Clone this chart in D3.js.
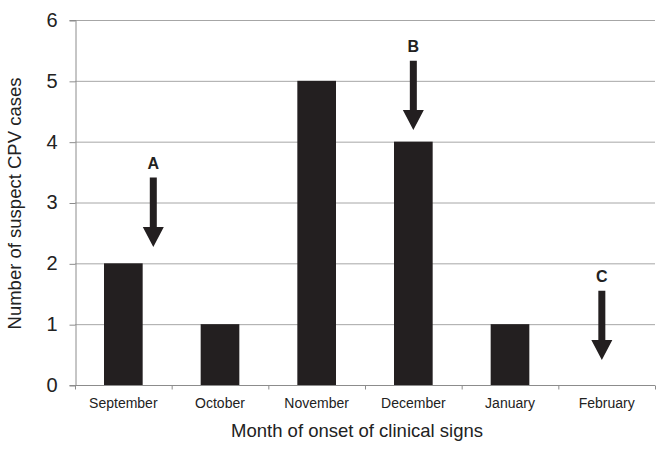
<!DOCTYPE html>
<html><head><meta charset="utf-8">
<script src="https://cdn.jsdelivr.net/npm/d3@7"></script>
<style>body{margin:0;background:#fff}svg{display:block}text{font-family:"Liberation Sans",Arial,sans-serif}</style>
</head><body><svg id="c" width="668" height="452"></svg>
<script>
const months = ["September","October","November","December","January","February"];
const cases = [2,1,5,4,1,0];
const yTicks = [0,1,2,3,4,5,6];
// annotations: label, category, offset within band (fraction of step), arrow top and tip in data units
const arrowLabels = ["A","B","C"];
const arrowMonths = ["September","December","February"];
const arrowOffsets = [0.31,0,-0.05];
const arrowTops = [3.41,5.33,1.55];
const arrowTips = [2.27,4.19,0.41];

const svg = d3.select("#c");
const L=75, R=655, T=20, B=385;
const x = d3.scaleBand().domain(months).range([L,R]).paddingInner(0).paddingOuter(0);
const y = d3.scaleLinear().domain([0,6]).range([B,T]);
const bw = x.bandwidth()*0.4;

// gridlines
svg.append("g").selectAll("line").data(yTicks.filter(d=>d>0)).join("line")
  .attr("x1",L).attr("x2",R).attr("y1",d=>y(d)+0.5).attr("y2",d=>y(d)+0.5)
  .attr("stroke","#a6a6a6").attr("stroke-width",1);

// y axis
const ya = svg.append("g").attr("transform",`translate(${L+0.5},0)`)
  .call(d3.axisLeft(y).tickValues(yTicks).tickSize(6).tickPadding(12).tickFormat(d3.format("d")));
ya.select(".domain").attr("stroke","#8c8c8c");
ya.selectAll(".tick line").attr("stroke","#8c8c8c").attr("transform","translate(0,0.5)");
ya.selectAll(".tick text").attr("font-size",20).attr("fill","#222").attr("font-family","Liberation Sans, Arial, sans-serif");

// bars
svg.append("g").selectAll("rect").data(months).join("rect")
  .attr("x",(d,i)=>x(d)+x.bandwidth()/2-bw/2).attr("width",bw)
  .attr("y",(d,i)=>y(cases[i])).attr("height",(d,i)=>B-y(cases[i]))
  .attr("fill","#231f20");

// x axis
const boundaries = months.map(m=>x(m)).concat([R]);
const xa = svg.append("g").attr("transform",`translate(0,${B+0.5})`);
xa.append("line").attr("x1",L).attr("x2",R).attr("stroke","#8c8c8c");
xa.selectAll("line.t").data(boundaries).join("line").attr("class","t")
  .attr("x1",d=>d+0.5).attr("x2",d=>d+0.5).attr("y1",0).attr("y2",4).attr("stroke","#8c8c8c");
xa.selectAll("text").data(months).join("text")
  .attr("x",d=>x(d)+x.bandwidth()/2).attr("y",22.5).attr("text-anchor","middle")
  .attr("font-size",14).attr("fill","#222").text(d=>d);

// titles
svg.append("text").attr("x",357).attr("y",437).attr("text-anchor","middle")
  .attr("font-size",18.5).attr("fill","#222").text("Month of onset of clinical signs");
svg.append("text").attr("transform",`translate(21,${(T+B)/2+1}) rotate(-90)`).attr("text-anchor","middle")
  .attr("font-size",18.5).attr("fill","#222").text("Number of suspect CPV cases");

// arrows
const ag = svg.append("g");
arrowLabels.forEach((lab,i)=>{
  const cx = x(arrowMonths[i]) + x.bandwidth()/2 + arrowOffsets[i]*x.step();
  const top = y(arrowTops[i]), tip = y(arrowTips[i]);
  const headH = 20, headW = 21, shaftW = 7;
  ag.append("path").attr("fill","#231f20")
    .attr("d",`M${cx-shaftW/2},${top} L${cx+shaftW/2},${top} L${cx+shaftW/2},${tip-headH} L${cx+headW/2},${tip-headH} L${cx},${tip} L${cx-headW/2},${tip-headH} L${cx-shaftW/2},${tip-headH} Z`);
  ag.append("text").attr("x",cx).attr("y",top-9).attr("text-anchor","middle")
    .attr("font-size",16).attr("font-weight","bold").attr("fill","#222").text(lab);
});
</script></body></html>
